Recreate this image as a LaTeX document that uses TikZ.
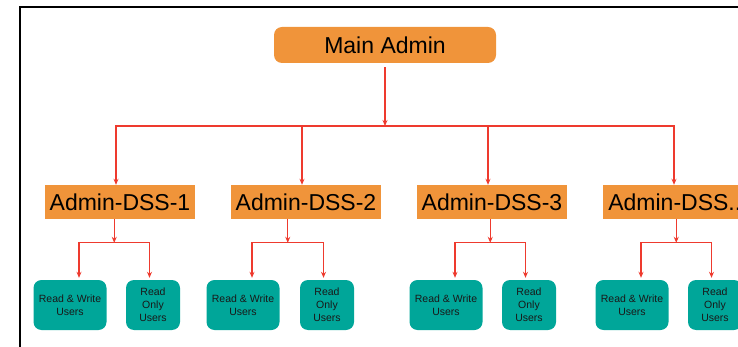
\documentclass[tikz,border=0pt]{standalone}
\usepackage{fontspec}
\setmainfont{Liberation Sans}
\usetikzlibrary{arrows.meta,calc}
\definecolor{adminorange}{RGB}{240,148,58}
\definecolor{userteal}{RGB}{0,166,153}
\definecolor{linkred}{RGB}{238,58,46}

\begin{document}
\begin{tikzpicture}[x=1pt, y=-1pt,
  adminbox/.style={fill=adminorange, minimum width=150pt, minimum height=34pt, inner sep=0pt, font=\fontsize{23}{26}\selectfont},
  mainbox/.style={adminbox, rounded corners=8pt, minimum width=222pt, minimum height=36pt},
  userbox/.style={fill=userteal, rounded corners=8pt, minimum height=50pt, inner sep=0pt, align=center, text=black!90, font=\fontsize{10.5}{13}\selectfont},
  link/.style={draw=linkred, line width=1.1pt, -{Stealth[length=6pt,width=5pt]}},
  frame/.style={draw=black, line width=1.2pt}]
\path [use as bounding box] (0,0) rectangle (738,347);
\clip (0,0) rectangle (738,347);
\draw [frame] (20,347) -- (20,7) -- (738,7);
\node [mainbox] (main) at (385,45) {Main Admin};
\coordinate (bus) at (385,126);
\draw [link, shorten <=4pt] (main) -- (bus);
\foreach \i/\dx/\rw/\ro/\name in {1/120/70/153/Admin-DSS-1, 2/306/243/327/Admin-DSS-2, 3/492/446/529/Admin-DSS-3, 4/678/632/715/{Admin-DSS.{}.{}.}} {
  \node [adminbox] (dss\i) at (\dx,202) {\name};
  \node [userbox, minimum width=73pt] (rw\i) at (\rw,305) {Read \& Write\\Users};
  \node [userbox, minimum width=54pt] (ro\i) at (\ro,305) {Read\\Only\\Users};
  \coordinate (fork\i) at ($(rw\i.north)!0.5!(ro\i.north) + (2.75,-37)$);
  \draw [link] (bus) -| ([xshift=-4pt]dss\i.north);
  \draw [link] (dss\i.south -| fork\i) -- (fork\i);
  \draw [link, shorten >=2pt] (fork\i) -| ([xshift=9pt]rw\i.north);
  \draw [link, shorten >=2pt] (fork\i) -| ([xshift=-3.5pt]ro\i.north);
}
\end{tikzpicture}
\end{document}
